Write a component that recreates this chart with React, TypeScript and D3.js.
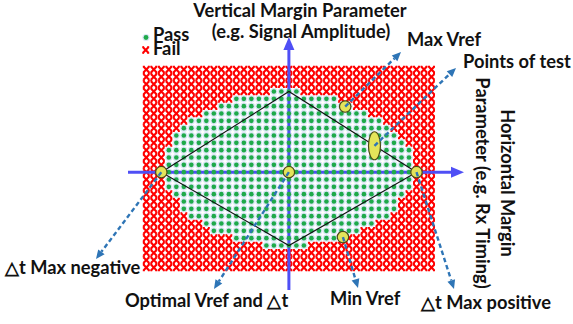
import React from "react";
import * as d3 from "d3";

const W = 573;
const H = 324;

// Shmoo grid: timing steps (columns) by reference-voltage steps (rows)
const COLS = 39;
const ROWS = 28;

// First and last passing column for every row; null = whole row fails
const passRanges: ([number, number] | null)[] = [
  null, null, null,
  [17, 20], [12, 25], [10, 27], [8, 29], [6, 31], [5, 32], [4, 33], [4, 34],
  [3, 35], [3, 35], [3, 35], [2, 36], [3, 35], [3, 35], [4, 34], [5, 33],
  [5, 33], [6, 32], [8, 30], [9, 28], [12, 26], [16, 21],
  null, null, null,
];

// Diamond joining the four extreme test points (grid units)
const diamond: [number, number][] = [
  [2, 14], [19, 3], [36, 14], [19, 24],
];

// Highlighted test points (grid units)
const testPoints = [
  { key: "neg", c: 2, r: 14 },
  { key: "opt", c: 19, r: 14 },
  { key: "pos", c: 36, r: 14 },
  { key: "maxV", c: 26.5, r: 5.05 },
  { key: "minV", c: 26.2, r: 22.85 },
];
const testEllipse = { c: 30.4, r: 10.4 };

// Callouts: label, arrow start (grid units), arrow tip and label anchor (px)
const callouts = [
  { text: "Max Vref", from: [26.5, 5.05], tip: [401, 52], lx: 407, ly: 46 },
  { text: "Points of test", from: [30.4, 10.4], tip: [456, 68], lx: 463, ly: 68 },
  { text: "\u25B3t Max negative", from: [2, 14], tip: [96, 259], lx: 5, ly: 274 },
  { text: "Optimal Vref and \u25B3t", from: [19, 14], tip: [214, 289], lx: 125, ly: 307 },
  { text: "Min Vref", from: [26.2, 22.85], tip: [358, 288], lx: 330, ly: 305 },
  { text: "\u25B3t Max positive", from: [36, 14], tip: [454, 289], lx: 421, ly: 309 },
];

const titleLines = ["Vertical Margin Parameter", "(e.g. Signal Amplitude)"];
const sideLines = ["Horizontal Margin", "Parameter (e.g. Rx Timing)"];
const legendItems = ["Pass", "Fail"];

const RED = "#ff0000";
const GREEN = "#1faa4a";
const HALO = "#d8e6f4";
const AXIS = "#4f4ff5";
const CALLOUT = "#2e75b6";
const POINT_FILL = "#e4e45a";
const POINT_STROKE = "#4a4a18";
const FONT = "Lato, 'Open Sans', sans-serif";
const FONT_SIZE = 18.3;

function crossPath(cx: number, cy: number, s = 2.9) {
  return `M${cx - s},${cy - s}L${cx + s},${cy + s}M${cx - s},${cy + s}L${cx + s},${cy - s}`;
}
function serifPath(cx: number, cy: number) {
  const a = 3.5, b = 1.6, h = 3.2;
  return `M${cx - a},${cy - h}H${cx - b}M${cx + b},${cy - h}H${cx + a}M${cx - a},${cy + h}H${cx - b}M${cx + b},${cy + h}H${cx + a}`;
}

function FailMark({ cx, cy }: { cx: number; cy: number }) {
  return (
    <g stroke={RED} fill="none">
      <path d={crossPath(cx, cy)} strokeWidth={2.1} />
      <path d={serifPath(cx, cy)} strokeWidth={1.2} />
    </g>
  );
}

function Arrow({ x1, y1, x2, y2 }: { x1: number; y1: number; x2: number; y2: number }) {
  const ang = Math.atan2(y2 - y1, x2 - x1);
  const len = 9, hw = 4;
  const bx = x2 - len * Math.cos(ang);
  const by = y2 - len * Math.sin(ang);
  const px = -Math.sin(ang) * hw;
  const py = Math.cos(ang) * hw;
  return (
    <g>
      <line x1={x1} y1={y1} x2={bx} y2={by} stroke={CALLOUT} strokeWidth={2.4} strokeDasharray="4.5,3" />
      <polygon points={`${x2},${y2} ${bx + px},${by + py} ${bx - px},${by - py}`} fill={CALLOUT} />
    </g>
  );
}

export default function App() {
  const x = d3.scaleLinear().domain([0, COLS - 1]).range([146.3, 431.5]);
  const y = d3.scaleLinear().domain([0, ROWS - 1]).range([69.5, 267.5]);

  const cells = d3.cross(d3.range(ROWS), d3.range(COLS)).map(([r, c]) => {
    const pr = passRanges[r];
    return { r, c, pass: pr != null && c >= pr[0] && c <= pr[1] };
  });
  const fails = cells.filter((d) => !d.pass);
  const passes = cells.filter((d) => d.pass);

  const diamondLine = d3
    .line<[number, number]>()
    .x((d) => x(d[0]))
    .y((d) => y(d[1]))
    .curve(d3.curveLinearClosed);

  const axisY = y(14);
  const axisX = x(19);

  return (
    <svg
      width={W}
      height={H}
      viewBox={`0 0 ${W} ${H}`}
      style={{ position: "absolute", left: 0, top: 0, background: "#fff" }}
    >
      {/* failing points */}
      <g>
        {fails.map((d) => (
          <FailMark key={`f${d.r}-${d.c}`} cx={x(d.c)} cy={y(d.r)} />
        ))}
      </g>
      {/* soft halo behind passing points */}
      <g fill={HALO}>
        {passes.map((d) => (
          <circle key={`h${d.r}-${d.c}`} cx={x(d.c)} cy={y(d.r)} r={3.6} />
        ))}
      </g>
      {/* axes */}
      <g stroke={AXIS} strokeWidth={3} fill={AXIS}>
        <line x1={128} y1={axisY} x2={453} y2={axisY} />
        <polygon points={`464,${axisY} 451,${axisY - 5.5} 451,${axisY + 5.5}`} stroke="none" />
        <line x1={axisX} y1={290} x2={axisX} y2={48} />
        <polygon points={`${axisX},37 ${axisX - 5.5},50 ${axisX + 5.5},50`} stroke="none" />
      </g>
      {/* passing points */}
      <g fill={GREEN}>
        {passes.map((d) => (
          <circle key={`p${d.r}-${d.c}`} cx={x(d.c)} cy={y(d.r)} r={2.3} />
        ))}
      </g>
      {/* test diamond */}
      <path d={diamondLine(diamond) ?? ""} fill="none" stroke="#111" strokeWidth={1.1} />
      {/* highlighted test points */}
      <g fill={POINT_FILL} stroke={POINT_STROKE} strokeWidth={1.2}>
        {testPoints.map((p) => (
          <circle key={p.key} cx={x(p.c)} cy={y(p.r)} r={5.7} />
        ))}
        <ellipse cx={x(testEllipse.c)} cy={y(testEllipse.r)} rx={6} ry={14} />
      </g>
      {/* callout arrows */}
      {callouts.map((a) => (
        <Arrow key={a.text} x1={x(a.from[0])} y1={y(a.from[1])} x2={a.tip[0]} y2={a.tip[1]} />
      ))}
      {/* texts */}
      <g fontFamily={FONT} fontWeight={700} fontSize={FONT_SIZE} fill="#111">
        <text x={300} y={17} textAnchor="middle">{titleLines[0]}</text>
        <text x={301} y={38} textAnchor="middle">{titleLines[1]}</text>
        {callouts.map((a) => (
          <text key={`t${a.text}`} x={a.lx} y={a.ly}>{a.text}</text>
        ))}
        <g transform="translate(501,183) rotate(90)">
          <text x={0} y={0} textAnchor="middle">{sideLines[0]}</text>
        </g>
        <g transform="translate(476,183) rotate(90)">
          <text x={0} y={0} textAnchor="middle">{sideLines[1]}</text>
        </g>
        {/* legend */}
        <circle cx={146} cy={37.5} r={3.6} fill={HALO} />
        <circle cx={146} cy={37.5} r={2.4} fill={GREEN} />
        <text x={153} y={41}>{legendItems[0]}</text>
        <FailMark cx={145.7} cy={50} />
        <text x={153} y={55}>{legendItems[1]}</text>
      </g>
    </svg>
  );
}
